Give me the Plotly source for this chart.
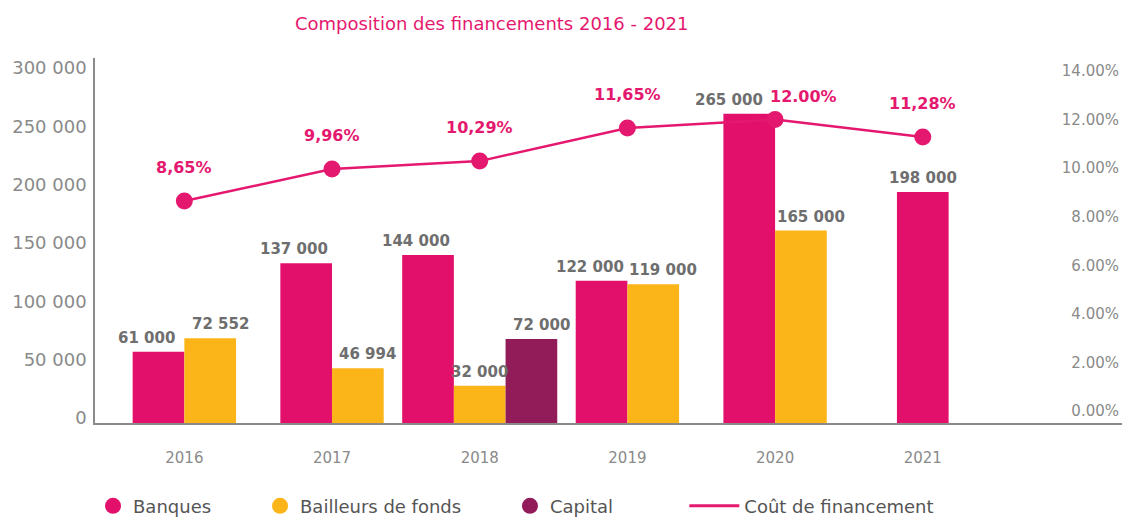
import plotly.graph_objects as go

# ---- data -------------------------------------------------------------
years = ["2016", "2017", "2018", "2019", "2020", "2021"]
banques = [61000, 137000, 144000, 122000, 265000, 198000]
bailleurs = [72552, 46994, 32000, 119000, 165000, None]
capital = [None, None, 72000, None, None, None]
cout = [8.65, 9.96, 10.29, 11.65, 12.00, 11.28]
cout_labels = ["8,65%", "9,96%", "10,29%", "11,65%", "12.00%", "11,28%"]

left_ticks = [0, 50000, 100000, 150000, 200000, 250000, 300000]
left_tick_text = ["0", "50 000", "100 000", "150 000", "200 000", "250 000", "300 000"]
right_ticks = [0, 2, 4, 6, 8, 10, 12, 14]
right_tick_text = ["0.00%", "2.00%", "4.00%", "6.00%", "8.00%", "10.00%", "12.00%", "14.00%"]

# ---- style ------------------------------------------------------------
PINK = "#E3106B"
LINE_PINK = "#E5186F"
YELLOW = "#FBB519"
PURPLE = "#921C59"
GREY_TXT = "#6E6E6E"
TICK_GREY = "#8A8A8A"
AXIS_GREY = "#8A8A8A"
FONT = "DejaVu Sans"
BAR_W = 0.35

W, H = 1133, 517
MARGIN = dict(l=95, r=11, t=58, b=94)
PLOT_H = H - MARGIN["t"] - MARGIN["b"]
Y1_RANGE = [0, 312857]
Y2_RANGE = [-0.494, 14.535]

series = [
    ("Banques", banques, PINK),
    ("Bailleurs de fonds", bailleurs, YELLOW),
    ("Capital", capital, PURPLE),
]


def fmt_thousands(v):
    return f"{v:,}".replace(",", " ")


def to_px(v, rng):
    """Height in pixels above the bottom of the plot area."""
    return (v - rng[0]) / (rng[1] - rng[0]) * PLOT_H


# Bars of each year are packed side by side and centred on the year,
# using only the series that have a value that year.
offsets = {name: [0.0] * len(years) for name, _, _ in series}
slot = {name: [None] * len(years) for name, _, _ in series}
for i in range(len(years)):
    present = [name for name, vals, _ in series if vals[i] is not None]
    n = len(present)
    start = -n * BAR_W / 2
    for k, name in enumerate(present):
        offsets[name][i] = start + k * BAR_W
        slot[name][i] = (k, n)

# Where a bar's value label would run into the cost label above it,
# the two labels are pushed apart sideways.
LINE_LABEL_GAP = 22
BAR_LABEL_GAP = 3
clash = []
for i in range(len(years)):
    tallest = max(v for _, vals, _ in series for v in [vals[i]] if v is not None)
    bar_top = to_px(tallest, Y1_RANGE) + BAR_LABEL_GAP + 18
    cost_bottom = to_px(cout[i], Y2_RANGE) + LINE_LABEL_GAP
    clash.append(bar_top > cost_bottom - 2)

fig = go.Figure()
annotations = []

for name, vals, color in series:
    fig.add_trace(go.Bar(
        x=years, y=vals, offset=offsets[name], width=BAR_W,
        marker=dict(color=color, line=dict(width=0)),
        name=name, showlegend=False, hoverinfo="x+y",
    ))
    for i, v in enumerate(vals):
        if v is None:
            continue
        k, n = slot[name][i]
        shift = 0
        if n > 1 and k == 0:
            shift = -20 if clash[i] else -12
        elif n > 1 and k == n - 1:
            shift = 10
        annotations.append(dict(
            x=i + offsets[name][i] + BAR_W / 2, y=v, xref="x", yref="y",
            text=fmt_thousands(v), showarrow=False, yanchor="bottom",
            yshift=BAR_LABEL_GAP, xshift=shift,
            font=dict(family=FONT, size=15, color=GREY_TXT, weight="bold"),
        ))

# Financing cost line on the secondary axis
fig.add_trace(go.Scatter(
    x=years, y=cout, yaxis="y2", mode="lines+markers",
    line=dict(color=LINE_PINK, width=2.5),
    marker=dict(color=LINE_PINK, size=17),
    name="Coût de financement", showlegend=False, hoverinfo="x+y",
))
for i, (v, lab) in enumerate(zip(cout, cout_labels)):
    annotations.append(dict(
        x=i, y=v, xref="x", yref="y2", text=lab, showarrow=False,
        yanchor="bottom", yshift=LINE_LABEL_GAP - (10 if clash[i] else 0),
        xshift=28 if clash[i] else 0,
        font=dict(family=FONT, size=16, color=LINE_PINK, weight="bold"),
    ))

# Legend-only entries: circles for the bar series, a plain line for the cost
for (name, _, color), leg in zip(series, ["legend", "legend2", "legend3"]):
    fig.add_trace(go.Scatter(
        x=[None], y=[None], mode="markers", name=name,
        marker=dict(color=color, size=18), legend=leg, hoverinfo="skip",
    ))
fig.add_trace(go.Scatter(
    x=[None], y=[None], mode="lines", name="Coût de financement",
    line=dict(color=LINE_PINK, width=3), legend="legend4", hoverinfo="skip",
))

legend_font = dict(family=FONT, size=18, color="#555555")
leg_common = dict(orientation="h", xref="container", yref="container",
                  yanchor="middle", y=0.021, xanchor="left",
                  font=legend_font, bgcolor="rgba(0,0,0,0)")

fig.update_layout(
    width=W, height=H,
    margin=dict(**MARGIN, autoexpand=False),
    paper_bgcolor="white", plot_bgcolor="white",
    barmode="overlay",
    font=dict(family=FONT, color=TICK_GREY),
    title=dict(
        text="Composition des financements 2016 - 2021",
        x=0.434, xref="container", xanchor="center",
        y=0.954, yref="container", yanchor="middle",
        font=dict(family=FONT, size=18, color=LINE_PINK),
    ),
    xaxis=dict(
        type="category", range=[-0.605, 6.349], automargin=False,
        showline=True, linecolor=AXIS_GREY, linewidth=1.5,
        ticks="", showgrid=False, zeroline=False,
        tickfont=dict(family=FONT, size=15, color=TICK_GREY),
        ticklabelstandoff=20,
    ),
    yaxis=dict(
        range=Y1_RANGE, tickvals=left_ticks, ticktext=left_tick_text,
        automargin=False,
        showline=True, linecolor=AXIS_GREY, linewidth=1.5,
        ticks="", showgrid=False, zeroline=False,
        tickfont=dict(family=FONT, size=18, color=TICK_GREY),
        ticklabelstandoff=3, ticklabelshift=-5,
    ),
    yaxis2=dict(
        range=Y2_RANGE, tickvals=right_ticks, ticktext=right_tick_text,
        overlaying="y", side="right", ticklabelposition="inside",
        automargin=False,
        showline=False, ticks="", showgrid=False, zeroline=False,
        tickfont=dict(family=FONT, size=15, color=TICK_GREY),
    ),
    legend=dict(x=0.0821, **leg_common),
    legend2=dict(x=0.2295, **leg_common),
    legend3=dict(x=0.4501, **leg_common),
    legend4=dict(x=0.604, itemwidth=50, **leg_common),
    annotations=annotations,
)

fig.write_html("out.html")
